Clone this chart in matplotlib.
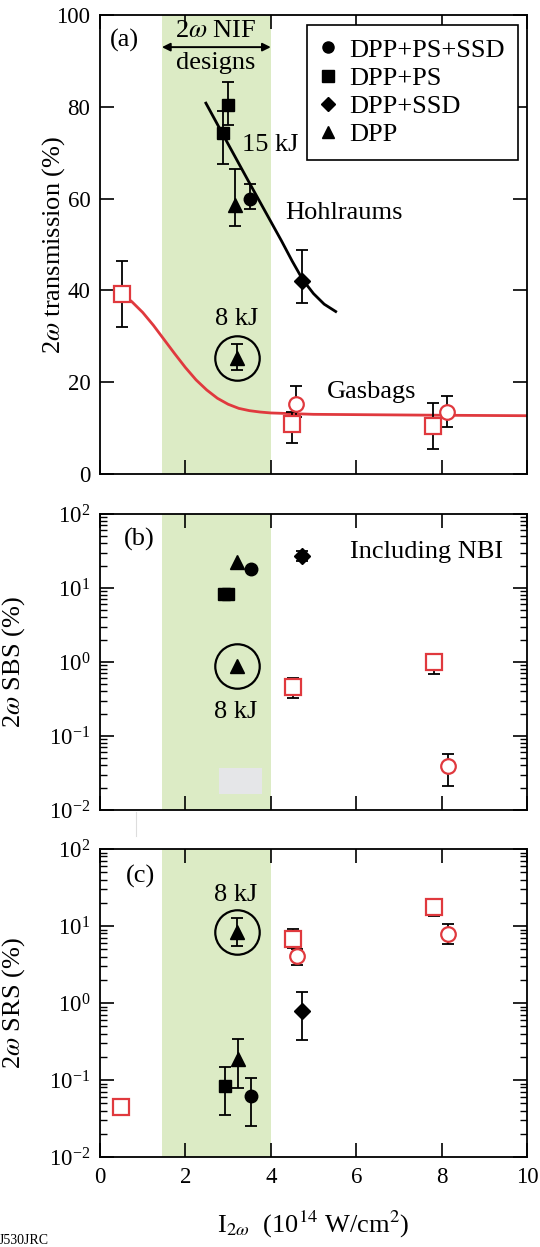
import matplotlib
matplotlib.use('Agg')
import matplotlib.pyplot as plt
import numpy as np
from matplotlib.lines import Line2D
from matplotlib.patches import Rectangle
from matplotlib.ticker import LogLocator, NullFormatter, FixedLocator

plt.rcParams['font.family'] = ['Liberation Serif', 'DejaVu Serif']
plt.rcParams['mathtext.fontset'] = 'stix'
plt.rcParams['font.size'] = 19
plt.rcParams['xtick.labelsize'] = 16.5
plt.rcParams['ytick.labelsize'] = 16.5

RED = '#e0393e'
GREEN = '#dcebc5'

# shaded 2w NIF design range
nif_band = [1.45, 4.0]

# ---- panel (a): 2w transmission (%) ----
# each point: x, y, lower end of error bar, upper end of error bar
a_circle = [(3.51, 59.9, 57.7, 63.1)]
a_square = [(3.00, 80.3, 76.0, 85.4), (2.88, 74.3, 67.5, 79.0)]
a_diamond = [(4.72, 42.1, 37.3, 48.8)]
a_triangle = [(3.16, 58.6, 54.0, 66.4)]
a_8kj = [(3.20, 25.2, 22.6, 28.4)]
a_red_square = [(0.52, 39.2, 32.1, 46.3), (4.50, 10.9, 6.8, 13.4), (7.81, 10.5, 5.4, 15.5)]
a_red_circle = [(4.60, 15.2, 12.5, 19.2), (8.12, 13.4, 10.2, 17.0)]

# fitted curves
hohl_x = [2.48, 3.0, 3.5, 4.0, 4.25, 4.5, 4.75, 5.0, 5.25, 5.52]
hohl_y = [80.8, 71.9, 63.4, 55.0, 50.8, 46.4, 42.3, 39.3, 37.0, 35.4]
gas_x = [0.52, 0.75, 1.0, 1.25, 1.5, 1.75, 2.0, 2.25, 2.5, 2.75, 3.0, 3.25, 3.5,
         3.75, 4.0, 5.0, 6.5, 8.0, 10.0]
gas_y = [39.2, 37.5, 35.2, 32.4, 29.3, 26.2, 23.2, 20.5, 18.3, 16.5, 15.2, 14.3, 13.8,
         13.5, 13.3, 13.0, 12.9, 12.8, 12.7]

# ---- panel (b): 2w SBS (%) ----
b_circle = [(3.53, 18.0, None, None)]
b_square = [(2.90, 8.2, None, None), (3.00, 8.2, None, None)]
b_diamond = [(4.73, 27.3, 23.5, 32.0)]
b_triangle = [(3.20, 22.7, None, None)]
b_8kj = [(3.20, 0.88, None, None)]
b_red_square = [(4.52, 0.46, 0.33, 0.60), (7.83, 1.00, 0.69, 1.30)]
b_red_circle = [(8.14, 0.039, 0.021, 0.058)]

# ---- panel (c): 2w SRS (%) ----
c_circle = [(3.54, 0.0625, 0.025, 0.106)]
c_square = [(2.92, 0.084, 0.035, 0.149)]
c_diamond = [(4.72, 0.79, 0.33, 1.39)]
c_triangle = [(3.23, 0.19, 0.079, 0.34)]
c_8kj = [(3.20, 8.4, 5.5, 12.6)]
c_red_square = [(0.50, 0.045, None, None), (4.53, 6.8, 5.2, 9.1), (7.83, 17.5, 13.6, 22.4)]
c_red_circle = [(4.62, 4.06, 3.1, 5.1), (8.14, 7.9, 5.9, 10.5)]


def draw_points(ax, pts, marker, ms, red=False):
    for x, y, lo, hi in pts:
        if lo is not None:
            ax.errorbar([x], [y], yerr=[[y - lo], [hi - y]], fmt='none',
                        ecolor='black', elinewidth=1.3, capsize=4, capthick=1.3, zorder=3)
        if red:
            ax.plot([x], [y], marker=marker, ms=ms, mfc='white', mec=RED, mew=1.6,
                    ls='none', zorder=4)
        else:
            ax.plot([x], [y], marker=marker, ms=ms, color='black', ls='none', zorder=4)


def ring(ax, pts):
    for x, y, lo, hi in pts:
        ax.plot([x], [y], marker='o', ms=32, mfc='none', mec='black', mew=1.6,
                ls='none', zorder=5)


def style(ax):
    for s in ax.spines.values():
        s.set_linewidth(1.3)
    ax.set_xlim(0, 10)
    ax.xaxis.set_major_locator(FixedLocator([0, 2, 4, 6, 8, 10]))
    ax.tick_params(which='major', direction='in', length=10, width=1.2,
                   top=True, right=True, pad=7)
    ax.tick_params(which='minor', direction='in', length=5, width=1.0,
                   top=False, right=True, left=True, bottom=False)
    ax.axvspan(nif_band[0], nif_band[1], color=GREEN, lw=0, zorder=0)


fig = plt.figure(figsize=(5.4, 12.47), dpi=100)
L, W = 100 / 540, 427 / 540
H = 1247
ax_a = fig.add_axes([L, 1 - 474 / H, W, (474 - 15) / H])
ax_b = fig.add_axes([L, 1 - 810 / H, W, (810 - 514) / H])
ax_c = fig.add_axes([L, 1 - 1157 / H, W, (1157 - 849) / H])

# panel (a)
style(ax_a)
ax_a.set_ylim(0, 100)
ax_a.yaxis.set_major_locator(FixedLocator([0, 20, 40, 60, 80, 100]))
ax_a.set_xticklabels([])
ax_a.plot(hohl_x, hohl_y, color='black', lw=2, zorder=2)
ax_a.plot(gas_x, gas_y, color=RED, lw=2, zorder=2)
draw_points(ax_a, a_square, 's', 9)
draw_points(ax_a, a_triangle, '^', 10)
draw_points(ax_a, a_circle, 'o', 9)
draw_points(ax_a, a_diamond, 'D', 8)
draw_points(ax_a, a_8kj, '^', 10)
ring(ax_a, a_8kj)
draw_points(ax_a, a_red_square, 's', 11, red=True)
draw_points(ax_a, a_red_circle, 'o', 10.5, red=True)
ax_a.text(0.23, 94.5, '(a)', ha='left', va='center')
ax_a.text(2.72, 96.6, '2$\\omega$ NIF', ha='center', va='center')
ax_a.text(2.72, 89.6, 'designs', ha='center', va='center')
ax_a.annotate('', xy=(nif_band[0], 93.0), xytext=(nif_band[1], 93.0),
              arrowprops=dict(arrowstyle='<|-|>', lw=1.4, color='black',
                              shrinkA=0, shrinkB=0, mutation_scale=12))
ax_a.text(3.32, 71.6, '15 kJ', ha='left', va='center')
ax_a.text(4.33, 56.9, 'Hohlraums', ha='left', va='center')
ax_a.text(3.19, 33.8, '8 kJ', ha='center', va='center')
ax_a.text(5.32, 17.9, 'Gasbags', ha='left', va='center')
ax_a.set_ylabel('2$\\omega$ transmission (%)')
ax_a.yaxis.set_label_coords(-0.078, 0.5)

handles = [Line2D([], [], marker='o', ms=8, color='black', ls='none'),
           Line2D([], [], marker='s', ms=8, color='black', ls='none'),
           Line2D([], [], marker='D', ms=7.5, color='black', ls='none'),
           Line2D([], [], marker='^', ms=8.5, color='black', ls='none')]
labels = ['DPP+PS+SSD', 'DPP+PS', 'DPP+SSD', 'DPP']
leg = ax_a.legend(handles, labels, loc='upper right',
                  bbox_to_anchor=(518 / 540, 1 - 25 / H), bbox_transform=fig.transFigure,
                  frameon=True, fancybox=False, framealpha=1, edgecolor='black',
                  handlelength=0.55, handletextpad=0.55, labelspacing=0.18,
                  borderpad=0.5, borderaxespad=0)
leg.get_frame().set_linewidth(1.2)

# panels (b) and (c)
for ax in (ax_b, ax_c):
    style(ax)
    ax.set_yscale('log')
    ax.set_ylim(1e-2, 1e2)
    ax.yaxis.set_major_locator(LogLocator(base=10, numticks=10))
    ax.yaxis.set_minor_locator(LogLocator(base=10, subs=np.arange(2, 10), numticks=10))
    ax.yaxis.set_minor_formatter(NullFormatter())

ax_b.set_xticklabels([])
ax_b.add_patch(Rectangle((2.79, 0.0162), 1.0, 0.0366 - 0.0162, color='#e5e6e8', lw=0, zorder=1))
draw_points(ax_b, b_square, 's', 9)
draw_points(ax_b, b_triangle, '^', 10)
draw_points(ax_b, b_circle, 'o', 9)
draw_points(ax_b, b_diamond, 'D', 8)
draw_points(ax_b, b_8kj, '^', 10)
ring(ax_b, b_8kj)
draw_points(ax_b, b_red_square, 's', 11, red=True)
draw_points(ax_b, b_red_circle, 'o', 10.5, red=True)
ax_b.text(0.56, 45, '(b)', ha='left', va='center')
ax_b.text(5.85, 31, 'Including NBI', ha='left', va='center')
ax_b.text(3.17, 0.21, '8 kJ', ha='center', va='center')
ax_b.set_ylabel('2$\\omega$ SBS (%)')
ax_b.yaxis.set_label_coords(-0.172, 0.5)

draw_points(ax_c, c_square, 's', 9)
draw_points(ax_c, c_triangle, '^', 10)
draw_points(ax_c, c_circle, 'o', 9)
draw_points(ax_c, c_diamond, 'D', 8)
draw_points(ax_c, c_8kj, '^', 10)
ring(ax_c, c_8kj)
draw_points(ax_c, c_red_square, 's', 11, red=True)
draw_points(ax_c, c_red_circle, 'o', 10.5, red=True)
ax_c.text(0.6, 44, '(c)', ha='left', va='center')
ax_c.text(3.17, 25.4, '8 kJ', ha='center', va='center')
ax_c.set_ylabel('2$\\omega$ SRS (%)')
ax_c.yaxis.set_label_coords(-0.172, 0.5)
ax_c.set_xlabel('I$_{2\\omega}$  (10$^{14}$ W/cm$^{2}$)')
ax_c.xaxis.set_label_coords(0.5, -0.168)

# small marks from the original figure
fig.add_artist(Line2D([135.5 / 540, 135.5 / 540], [1 - 812 / H, 1 - 836 / H],
                      color='#dddddd', lw=0.8))
fig.text(-0.003, 1 - 1240 / H, 'J530JRC', fontsize=10, ha='left', va='center')

fig.savefig('out.png', dpi=100)
